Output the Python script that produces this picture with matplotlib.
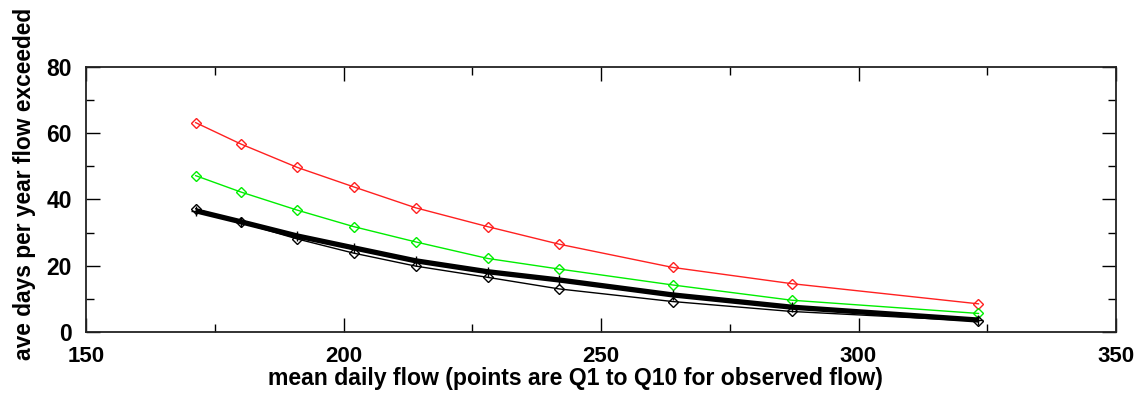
import matplotlib
matplotlib.use("Agg")
import matplotlib.pyplot as plt
from matplotlib.ticker import MultipleLocator

flow = [171.3, 180.0, 191.0, 202.0, 214.0, 228.0, 241.9, 263.9, 287.0, 323.3]
red_days = [63.2, 56.8, 49.7, 43.8, 37.5, 31.8, 26.5, 19.5, 14.6, 8.5]
green_days = [47.2, 42.3, 36.8, 31.8, 27.2, 22.2, 19.0, 14.2, 9.6, 5.6]
black_days = [37.2, 33.1, 28.1, 23.8, 19.9, 16.5, 13.0, 9.2, 6.2, 3.3]
thick_days = [36.6, 33.3, 29.0, 25.4, 21.5, 18.2, 15.7, 11.2, 7.5, 3.6]

xlabel = "mean daily flow (points are Q1 to Q10 for observed flow)"
ylabel = "ave days per year flow exceeded"

plt.rcParams['font.family'] = ['Liberation Sans', 'DejaVu Sans']
plt.rcParams['font.weight'] = 'bold'

W, H = 1142, 396
fig = plt.figure(figsize=(W / 100, H / 100), dpi=100)
ax = fig.add_axes([86 / W, 1 - 332 / H, (1116 - 86) / W, (332 - 67) / H])

ax.plot(flow, red_days, color='#ff2020', lw=1.0, marker='D', ms=4.8,
        mfc='none', mec='#ff2020', mew=1.0)
ax.plot(flow, green_days, color='#00ee00', lw=1.0, marker='D', ms=4.8,
        mfc='none', mec='#00ee00', mew=1.0)
ax.plot(flow, black_days, color='black', lw=1.0, marker='D', ms=4.8,
        mfc='none', mec='black', mew=1.0)
ax.plot(flow, thick_days, color='black', lw=3.8, marker='+', ms=7,
        mew=1.0, solid_capstyle='butt')

ax.set_xlim(150, 350)
ax.set_ylim(0, 80)
ax.xaxis.set_major_locator(MultipleLocator(50))
ax.xaxis.set_minor_locator(MultipleLocator(25))
ax.yaxis.set_major_locator(MultipleLocator(20))
ax.yaxis.set_minor_locator(MultipleLocator(10))
ax.tick_params(which='both', direction='in', top=True, right=True,
               width=1.0, color='black')
ax.tick_params(which='major', length=10)
ax.tick_params(which='minor', length=6)
ax.tick_params(axis='x', which='major', pad=10, labelsize=16)
ax.tick_params(axis='y', which='major', pad=10, labelsize=16.5)
for lab in ax.get_xticklabels() + ax.get_yticklabels():
    lab.set_fontweight('bold')
for sp in ax.spines.values():
    sp.set_linewidth(1.3)
    sp.set_color('#222222')

fig.text(575 / W, 1 - 378 / H, xlabel, ha='center', va='center',
         fontsize=16.6, fontweight='bold')
fig.text(25 / W, 1 - 184 / H, ylabel, ha='center', va='center',
         rotation=90, fontsize=16.4, fontweight='bold')

fig.savefig("out.png", dpi=100)
